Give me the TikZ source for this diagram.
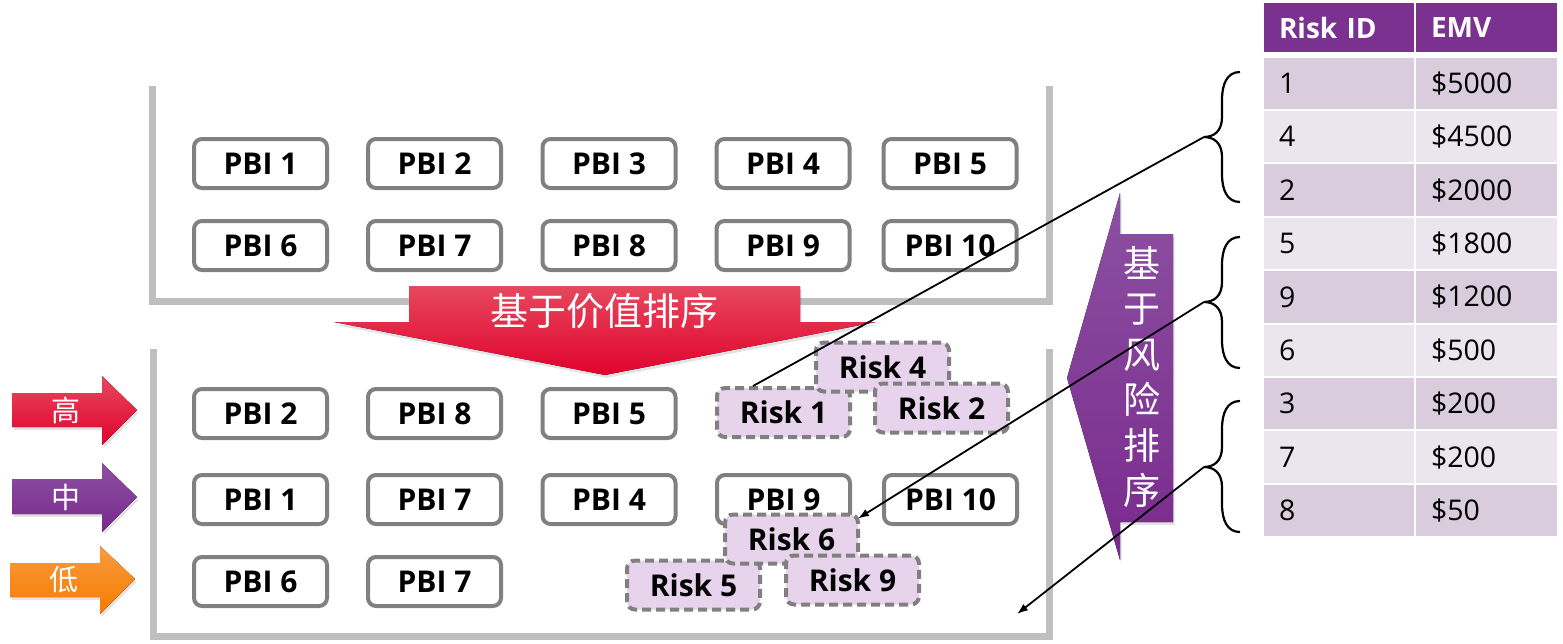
\documentclass[tikz,border=0pt]{standalone}
\usepackage{fontspec}
\setmainfont{Open Sans}
\newfontfamily\cjk{Noto Sans CJK SC}
\usetikzlibrary{arrows.meta,shadows}
\definecolor{boxgray}{HTML}{808080}
\definecolor{wallgray}{HTML}{BFBFBF}
\definecolor{riskfill}{HTML}{E8D3EC}
\definecolor{hdrpurple}{HTML}{7B3190}
\definecolor{rowdark}{HTML}{D9CCDD}
\definecolor{rowlight}{HTML}{EBE6EE}
\definecolor{redtop}{HTML}{E6485E}
\definecolor{redmain}{HTML}{E1022D}
\definecolor{purtop}{HTML}{8C50A2}
\definecolor{purmain}{HTML}{792A8D}
\definecolor{orgtop}{HTML}{F99A40}
\definecolor{orgmain}{HTML}{F77B00}
\begin{document}
\begin{tikzpicture}[x=1pt,y=-1pt,
  pbi/.style={draw=boxgray, line width=4pt, rounded corners=8pt, fill=white,
    minimum width=133pt, minimum height=49pt, inner sep=0pt,
    font=\fontsize{30}{34}\selectfont\bfseries},
  risk/.style={pbi, fill=riskfill, dash pattern=on 9pt off 5pt},
  wall/.style={draw=wallgray, line width=7pt},
  cell/.style={minimum height=51.5pt, inner xsep=15pt, inner ysep=0pt,
    font=\fontsize{28.5}{32}\selectfont, align=left},
  hdr/.style={cell, minimum height=49pt, fill=hdrpurple, text=white,
    font=\fontsize{28}{32}\selectfont\bfseries},
  bracepath/.style={draw=black, line width=2.2pt},
  link/.style={draw=black, line width=1.8pt},
  shade/.style={drop shadow={shadow xshift=1.5pt, shadow yshift=-3pt, opacity=0.22}},
  redshade/.style={top color=redtop, middle color=redmain, bottom color=redmain, shade},
  purshade/.style={top color=purtop, middle color=purmain, bottom color=purmain, shade},
  orgshade/.style={top color=orgtop, middle color=orgmain, bottom color=orgmain, shade},
  cjklabel/.style={text=white, font=\cjk\fontsize{29}{34}\selectfont, inner sep=0pt},
]
\useasboundingbox (0,0) rectangle (1563,643);

% containers
\draw[wall] (152,86) -- (152,301) -- (1049,301) -- (1049,86);
\draw[wall] (153,349) -- (153,636) -- (1049,636) -- (1049,349);

% top backlog
\node[pbi] (t1) at (260.5,163.5) {PBI 1};
\node[pbi] (t2) at (434.5,163.5) {PBI 2};
\node[pbi] (t3) at (609,163.5) {PBI 3};
\node[pbi] (t4) at (783,163.5) {PBI 4};
\node[pbi] (t5) at (950,163.5) {PBI 5};
\node[pbi] (t6) at (260.5,245.5) {PBI 6};
\node[pbi] (t7) at (434.5,245.5) {PBI 7};
\node[pbi] (t8) at (609,245.5) {PBI 8};
\node[pbi] (t9) at (783,245.5) {PBI 9};
\node[pbi] (t10) at (950,245.5) {PBI 10};

% value arrow
\fill[redshade]
  (409,286) -- (800,286) -- (800,322) -- (876,322) -- (605,375) -- (334,322) -- (409,322) -- cycle;
\node[text=white, font=\cjk\fontsize{38}{44}\selectfont, inner sep=0pt] (valtext) at (604,311) {基于价值排序};

% priority arrows
\fill[redshade] (12,393) -- (102,393) -- (102,376) -- (137,410) -- (102,445) -- (102,427) -- (12,427) -- cycle;
\fill[purshade] (12,479) -- (102,479) -- (102,463) -- (137,497) -- (102,532) -- (102,514) -- (12,514) -- cycle;
\fill[orgshade] (10,563) -- (100,563) -- (100,546) -- (135,579) -- (100,614) -- (100,597) -- (10,597) -- cycle;
\node[cjklabel] (high) at (66,410) {高};
\node[cjklabel] (mid) at (66,497) {中};
\node[cjklabel] (low) at (64,580) {低};

% bottom backlog
\node[pbi] (b2) at (260.5,413.5) {PBI 2};
\node[pbi] (b8) at (434.5,413.5) {PBI 8};
\node[pbi] (b5) at (609,413.5) {PBI 5};
\node[pbi] (b1) at (260.5,499.5) {PBI 1};
\node[pbi] (b7) at (434.5,499.5) {PBI 7};
\node[pbi] (b4) at (609,499.5) {PBI 4};
\node[pbi] (b9) at (783.5,499.5) {PBI 9};
\node[pbi] (b10) at (950.5,499.5) {PBI 10};
\node[pbi] (b6) at (260.5,581.5) {PBI 6};
\node[pbi] (b7b) at (434.5,581.5) {PBI 7};

% risks
\node[risk] (r1) at (783.5,412.5) {Risk 1};
\node[risk] (r4) at (882.5,367) {Risk 4};
\node[risk] (r2) at (941.5,408) {Risk 2};
\node[risk] (r5) at (693.5,585) {Risk 5};
\node[risk] (r6) at (791.5,539) {Risk 6};
\node[risk] (r9) at (852.5,580) {Risk 9};

% risk arrow
\fill[top color=purtop, bottom color=purmain, shade]
  (1120,193) -- (1120,234) -- (1173,234) -- (1173,522) -- (1120,522) -- (1120,560) -- (1067,378) -- cycle;
\node[text=white, font=\cjk\fontsize{37}{45.4}\selectfont, inner sep=0pt, align=center] (risktext) at (1142,377)
  {基\\于\\风\\险\\排\\序};

% table
\node[hdr, text width=120pt] (h1) at (1339,27.5) {Risk ID};
\node[hdr, text width=111pt] (h2) at (1486.5,27.5) {EMV};
\foreach \i/\id/\emv/\col in {0/1/\$5000/rowdark, 1/4/\$4500/rowlight, 2/2/\$2000/rowdark,
  3/5/\$1800/rowlight, 4/9/\$1200/rowdark, 5/6/\$500/rowlight,
  6/3/\$200/rowdark, 7/7/\$200/rowlight, 8/8/\$50/rowdark}{
  \pgfmathsetmacro\yy{83.25+53.4*\i}
  \node[cell, fill=\col, text width=120pt] (ca\i) at (1339,\yy) {\id};
  \node[cell, fill=\col, text width=111pt] (cb\i) at (1486.5,\yy) {\emv};
}

% braces
\foreach \n/\a/\m/\b in {1/72/137/202, 2/237/302/368, 3/401/467/532}{
  \draw[bracepath] (1240,\a) .. controls (1227,\a) and (1222,\a+12) .. (1222,\a+28)
    -- (1222,\m-20) .. controls (1222,\m-6) and (1214,\m) .. (1204,\m)
    .. controls (1214,\m) and (1222,\m+6) .. (1222,\m+20)
    -- (1222,\b-28) .. controls (1222,\b-12) and (1227,\b) .. (1240,\b);
  \coordinate (br\n) at (1204,\m);
}

% links
\coordinate (e3) at (1017,614);
\draw[link] (br1) -- ([xshift=38pt]r1.north west);
\draw[link, -{Latex[length=11pt,width=8pt]}] (br2) -- ([xshift=-2pt,yshift=-6pt]r6.north east);
\draw[link, -{Latex[length=11pt,width=8pt]}] (br3) -- (e3);
\end{tikzpicture}
\end{document}
